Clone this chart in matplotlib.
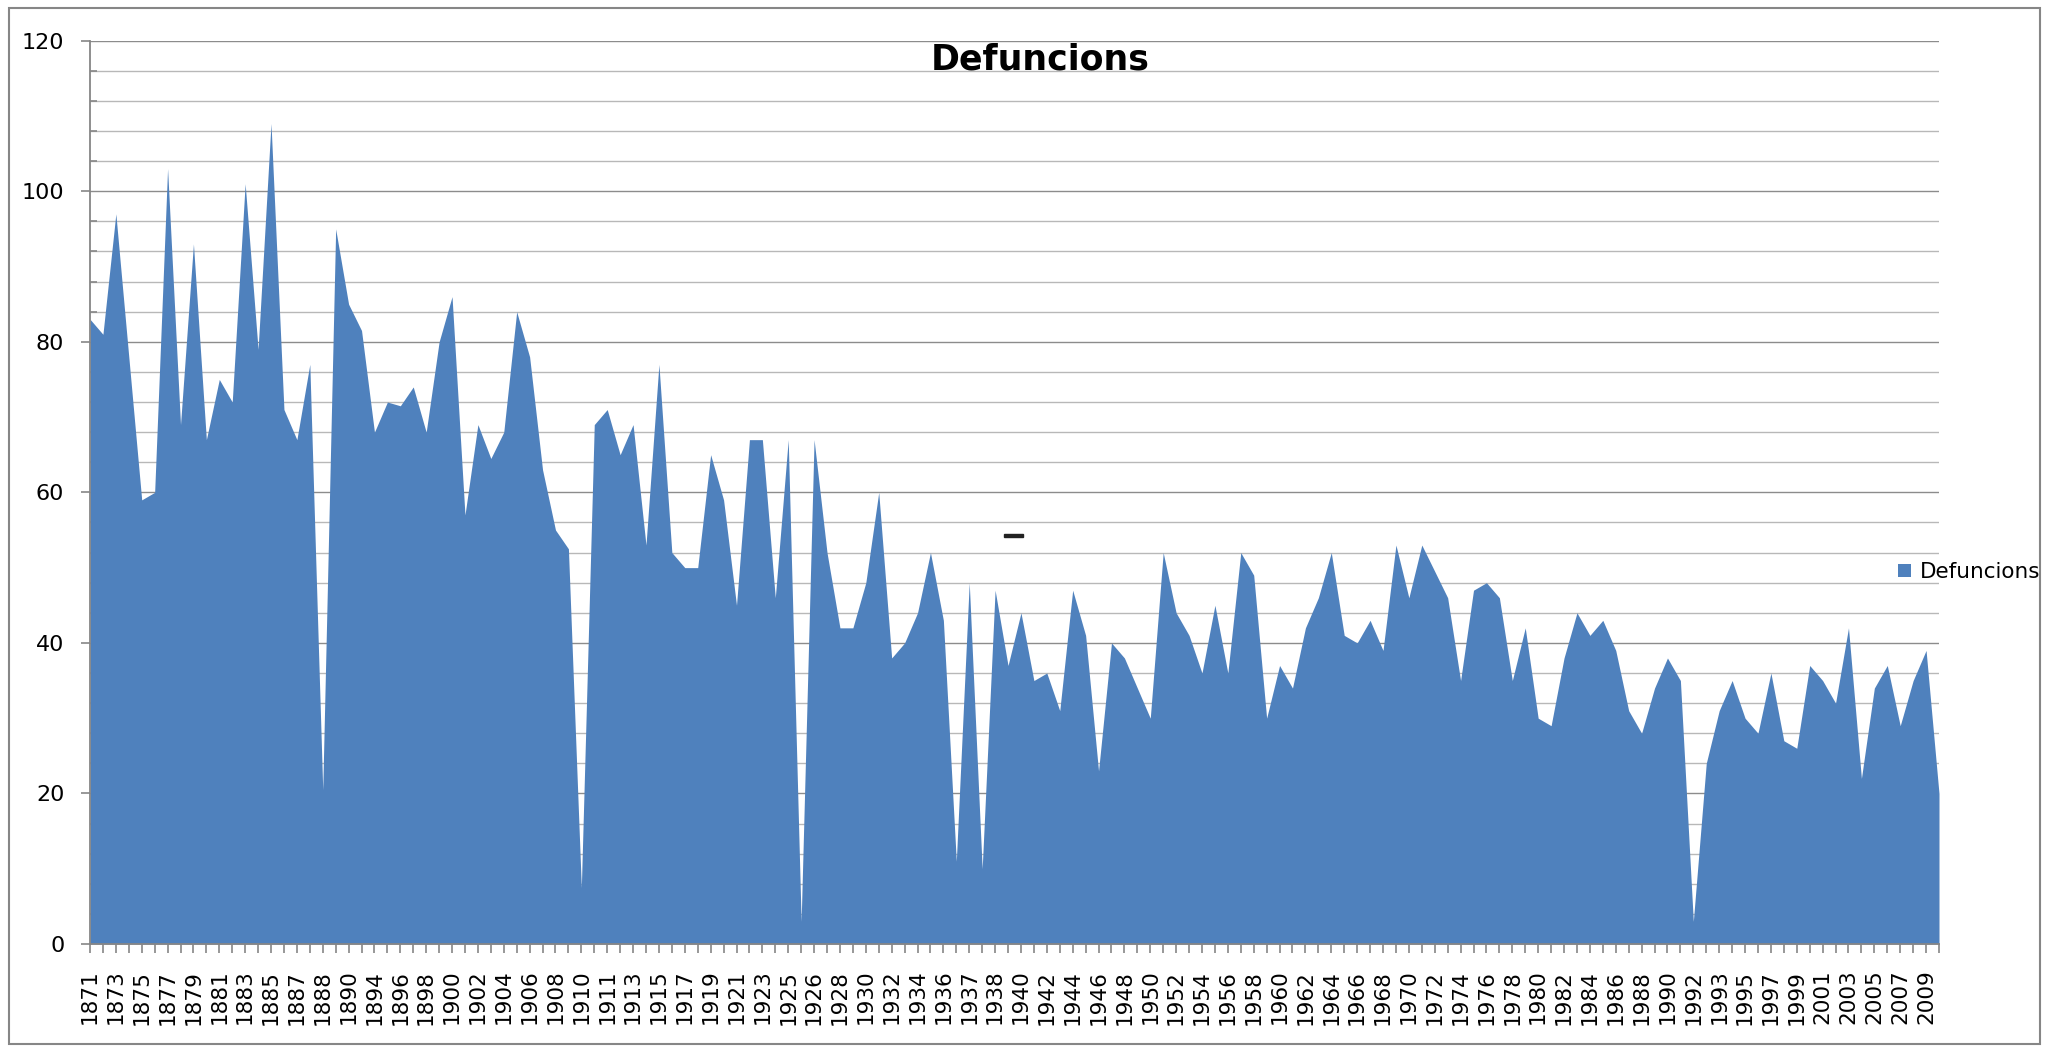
import numpy as np
import matplotlib
matplotlib.use("Agg")
import matplotlib.pyplot as plt
from matplotlib.patches import Patch, Rectangle
from matplotlib.ticker import MultipleLocator

# ---------------- data ----------------
chart_title = "Defuncions"
series_name = "Defuncions"

years = (list(range(1871, 1888)) + [1888, 1888, 1889, 1890, 1891]
         + list(range(1894, 1911)) + [1910]
         + list(range(1911, 1926)) + [1925]
         + list(range(1926, 1937)) + [1936, 1937, 1937, 1938, 1939]
         + list(range(1940, 1993)) + [1992]
         + list(range(1993, 2011)))

deaths = [83, 81, 97, 78, 59, 60, 103, 69, 93, 67,
          75, 72, 101, 79, 109, 71, 67, 77, 20.5, 95,
          85, 81.5, 68, 72, 71.5, 74, 68, 80, 86, 57,
          69, 64.5, 68, 84, 78, 63, 55, 52.5, 7.5, 69,
          71, 65, 69, 53, 77, 52, 50, 50, 65, 59,
          45, 67, 67, 46, 67, 3, 67, 52, 42, 42,
          48, 60, 38, 40, 44, 52, 43, 11, 48, 10,
          47, 37, 44, 35, 36, 31, 47, 41, 23, 40,
          38, 34, 30, 52, 44, 41, 36, 45, 36, 52,
          49, 30, 37, 34, 42, 46, 52, 41, 40, 43,
          39, 53, 46, 53, 49.5, 46, 35, 47, 48, 46,
          35, 42, 30, 29, 38, 44, 41, 43, 39, 31,
          28, 34, 38, 35, 3, 24, 31, 35, 30, 28,
          36, 27, 26, 37, 35, 32, 42, 22, 34, 37,
          29, 35, 39, 20]

y_max = 120
y_major = 20
y_minor = 4

# ---------------- figure ----------------
W, H = 2056, 1048
fig = plt.figure(figsize=(W / 100, H / 100), dpi=100)
fig.patch.set_facecolor("white")

left_px, right_px, top_px, bottom_px = 90, 1939, 40.7, 944
ax = fig.add_axes([left_px / W, 1 - bottom_px / H,
                   (right_px - left_px) / W, (bottom_px - top_px) / H])

x = np.arange(len(deaths))
ax.fill_between(x, deaths, 0, color="#4F81BD", linewidth=0, zorder=2)

ax.set_xlim(0, len(deaths) - 1)
ax.set_ylim(0, y_max)

ax.yaxis.set_major_locator(MultipleLocator(y_major))
ax.yaxis.set_minor_locator(MultipleLocator(y_minor))
ax.grid(which="major", axis="y", color="#8c8c8c", linewidth=1.0, zorder=0)
ax.grid(which="minor", axis="y", color="#b8b8b8", linewidth=1.0, zorder=0)
ax.grid(which="major", axis="x", visible=False)
ax.set_axisbelow(True)

ax.set_xticks(x)
ax.set_xticklabels([str(yv) if i % 2 == 0 else "" for i, yv in enumerate(years)],
                   rotation=90, fontsize=15.5, family="DejaVu Sans")
ax.tick_params(axis="x", which="major", direction="out", length=6.5, width=1.2,
               color="#868686", pad=12, labelcolor="black")
ax.tick_params(axis="y", which="major", direction="out", length=6.5, width=1.2,
               color="#868686", pad=12, labelsize=16, labelcolor="black")
ax.tick_params(axis="y", which="minor", direction="in", length=5, width=1.2,
               color="#868686")

for s in ["top", "right"]:
    ax.spines[s].set_visible(False)
for s in ["left", "bottom"]:
    ax.spines[s].set_color("#868686")
    ax.spines[s].set_linewidth(1.3)

# title
fig.text(1040 / W, 1 - 60 / H, chart_title, ha="center", va="center",
         fontsize=25, fontweight="bold", family="DejaVu Sans")

# legend
handle = Patch(facecolor="#4F81BD", edgecolor="none", label=series_name)
fig.legend(handles=[handle], loc="center left",
           bbox_to_anchor=(1898 / W, 1 - 572 / H), bbox_transform=fig.transFigure,
           frameon=False, fontsize=15.5, handlelength=0.6, handleheight=0.6,
           handletextpad=0.4, borderpad=0, borderaxespad=0)

# small stray mark present in the original
ax.add_patch(Rectangle(((1004 - left_px) / (right_px - left_px), (bottom_px - 537) / (bottom_px - top_px)),
                       19 / (right_px - left_px), 3 / (bottom_px - top_px),
                       transform=ax.transAxes, color="#222222", zorder=5, clip_on=False))

# outer chart border
fig.patches.append(Rectangle((9 / W, 1 - 1044 / H), (2040 - 9) / W, (1044 - 8) / H,
                             transform=fig.transFigure, fill=False,
                             edgecolor="#868686", linewidth=1.5))

fig.savefig("out.png", dpi=100)
